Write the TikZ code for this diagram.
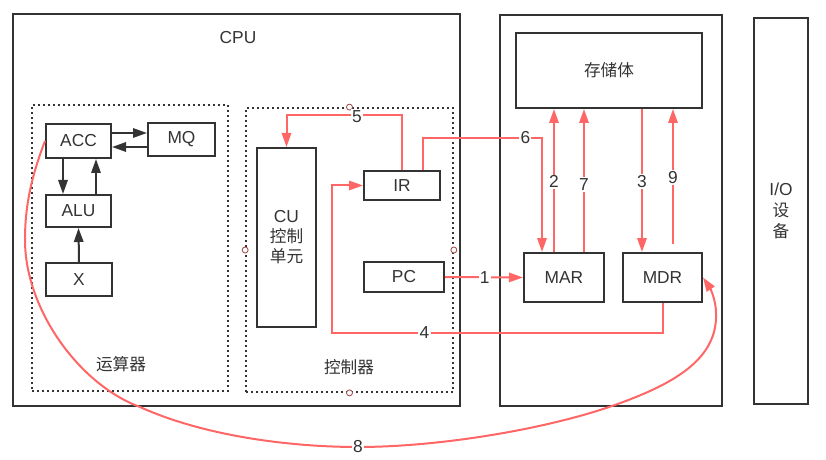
\documentclass[tikz,border=0pt]{standalone}
\usepackage{fontspec}
\setmainfont{Liberation Sans}
\newfontfamily\cjk{Noto Sans CJK SC}
\newcommand\zh{\cjk\fontsize{12.5pt}{15pt}\selectfont}
\usetikzlibrary{arrows.meta,calc}
\definecolor{ink}{HTML}{333333}
\definecolor{rd}{HTML}{FF6666}
\definecolor{hd}{HTML}{A04848}
\begin{document}
\begin{tikzpicture}[x=0.75pt,y=-0.75pt,
  every node/.style={font=\fontsize{13pt}{15pt}\selectfont, text=ink},
  bx/.style 2 args={draw=ink, line width=1.5pt, minimum width=#1*0.75pt, minimum height=#2*0.75pt, inner sep=0pt},
  dotbox/.style 2 args={draw=ink, line width=1.3pt, dash pattern=on 1.3pt off 2.45pt, minimum width=#1*0.75pt, minimum height=#2*0.75pt, inner sep=0pt},
  handle/.style={circle, draw=hd, fill=white, line width=0.6pt, minimum size=4.5pt, inner sep=0pt},
  bk/.style={draw=ink, line width=1.5pt, -{Triangle[length=10.5pt,width=7pt]}},
  ra/.style={draw=rd, line width=1.5pt, -{Triangle[length=10.5pt,width=7pt]}},
  lab/.style={fill=white, inner sep=1pt, text=ink}
]
\useasboundingbox (0,0) rectangle (826,460);
% outer boxes
\node[bx={447}{391}] (CPU) at (236.5,210) {};
\node[bx={222}{390.5}] (MEM) at (611,210.75) {};
\node[bx={54}{386}, align=center, font=\fontsize{13pt}{16pt}\selectfont] (IO) at (781,211) {I/O\\{\zh 设}\\{\zh 备}};
\node (cpul) at (238,38) {CPU};
% dotted groups
\node[dotbox={196}{286}] (ALUG) at (130,248) {};
\node[dotbox={207}{284}] (CTRL) at (349.5,250) {};
\node (alul) at (121,364) {\zh 运算器};
\node (ctrll) at (349,367) {\zh 控制器};
\node[handle] (h1) at (CTRL.north) {};
\node[handle] (h2) at (CTRL.west) {};
\node[handle] (h3) at (CTRL.east) {};
\node[handle] (h4) at (CTRL.south) {};
% inner boxes
\node[bx={65}{34}] (ACC) at (78.5,141) {ACC};
\node[bx={67}{33}] (MQ) at (181.5,139.5) {MQ};
\node[bx={65}{32}] (ALU) at (78.5,211) {ALU};
\node[bx={66}{33}] (X) at (79,279.5) {X};
\node[bx={59}{179}, align=center] (CU) at (286.5,237.5) {CU\\{\zh 控制}\\{\zh 单元}};
\node[bx={76}{29}] (IR) at (402,185.5) {IR};
\node[bx={80}{30}] (PC) at (404,277) {PC};
\node[bx={186}{75}] (STORE) at (609,70.5) {\zh 存储体};
\node[bx={80}{49}] (MAR) at (564,277.5) {MAR};
\node[bx={79}{49}] (MDR) at (662.5,277.5) {MDR};
% black arrows
\draw[bk] (ACC.east |- 0,133) -- (MQ.west |- 0,133);
\draw[bk] (MQ.west |- 0,147) -- (ACC.east |- 0,147);
\draw[bk] (ACC.south -| 63,0) -- (ALU.north -| 63,0);
\draw[bk] (ALU.north -| 96,0) -- (ACC.south -| 96,0);
\draw[bk] (X.north) -- (ALU.south);
% red arrows
\draw[ra] (PC.east) -- node[lab,pos=0.51]{1} (MAR.west);
\draw[ra] (MAR.north -| 554,0) -- node[lab,pos=0.49]{2} (STORE.south -| 554,0);
\draw[ra] (MAR.north -| 584,0) -- node[lab,pos=0.47]{7} (STORE.south -| 584,0);
\draw[ra] (STORE.south -| 642,0) -- node[lab,pos=0.51]{3} (MDR.north -| 642,0);
\coordinate (s9) at ($(MDR.north)+(10.5,-8)$);
\draw[ra] (s9) -- node[lab,pos=0.49]{9} (STORE.south -| s9);
\draw[ra] (MDR.south) -- (MDR.south |- 0,333) -- node[lab,pos=0.72]{4} (332,333) -- (IR.west -| 332,0) -- (IR.west);
\draw[ra] (IR.north) -- (IR.north |- 0,115) -- node[lab,pos=0.39,yshift=-1pt]{5} (CU.north |- 0,115) -- (CU.north);
\coordinate (a6) at ($(IR.north)+(21,0)$);
\coordinate (b6) at ($(MAR.north)+(-22,0)$);
\draw[ra] (a6) -- (a6 |- 0,138) -- node[lab,pos=0.86]{6} (b6 |- 0,138) -- (b6);
% path 8
\coordinate (c8) at (358,447);
\draw[ra] (ACC.west) .. controls (28,185) and (25,215) .. (25,240)
  .. controls (25,310) and (80,385) .. (140,407)
  .. controls (204,436) and (290,447) .. (c8)
  .. controls (440,447) and (546,429) .. (612,406)
  .. controls (672,385) and (718,360) .. (716,313)
  .. controls (716,300) and (710,288) .. (MDR.east);
\node[lab] (l8) at (c8) {8};
\end{tikzpicture}
\end{document}
